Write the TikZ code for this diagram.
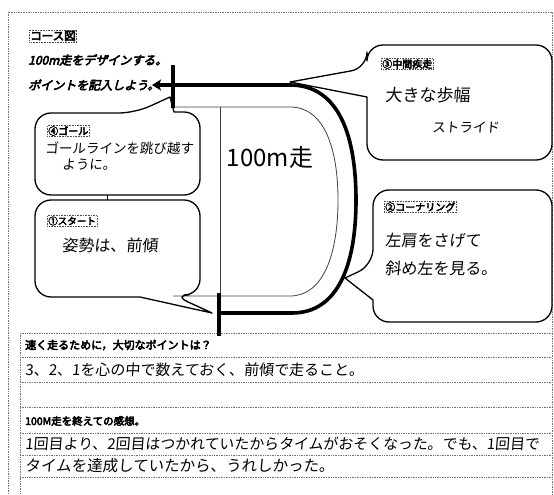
\documentclass[tikz,border=0pt]{standalone}
\usepackage{fontspec}
\usetikzlibrary{arrows.meta}
\newfontfamily\jp{Noto Sans CJK JP}
\newfontfamily\jpb[FakeBold=4.5]{Noto Sans CJK JP}
\newfontfamily\jpbi[FakeBold=4.5,FakeSlant=0.25]{Noto Sans CJK JP}
\newfontfamily\hand[FakeSlant=0.08]{Noto Sans CJK JP}
\tikzset{
  frame/.style={draw=black!55, densely dotted, line width=0.7pt},
  bubble/.style={draw=black, line width=1.3pt, line join=round},
  tag/.style={draw=black!70, densely dotted, line width=0.6pt, inner sep=1pt, anchor=west, font=\jpb\fontsize{10}{10}\selectfont},
  hw/.style={anchor=west, inner sep=0pt, font=\hand\fontsize{#1}{#1}\selectfont},
  hw/.default=16,
  head/.style={anchor=west, inner sep=0pt, font=\jpb\fontsize{#1}{#1}\selectfont},
  headi/.style={anchor=west, inner sep=0pt, font=\jpbi\fontsize{12}{12}\selectfont},
  outer track/.style={draw=black, line width=3.6pt},
  inner track/.style={draw=black!75, line width=0.8pt},
  tick/.style={draw=black, line width=4pt},
}
\begin{document}
\begin{tikzpicture}[x=1pt,y=-1pt]
\useasboundingbox (0,0) rectangle (554,495);
% frames
\draw[frame] (8,12) rectangle (552,505);
\draw[frame] (20,333) -- (552,333);
\draw[frame] (20,333) -- (20,505);
\foreach \yy in {357,382,407,433,455,477}
  \draw[frame] (20,\yy) -- (552,\yy);

% titles
\node[tag] (title) at (29,36) {\fontsize{11.5}{11.5}\selectfont コース図};
\node[headi] (design) at (28,60) {100m走をデザインする。};
\node[headi] (point) at (28,85) {ポイントを記入しよう。};

% track
\coordinate (tip) at (152,85);
\coordinate (outS) at (219,313);
\coordinate (inT) at (173,107);
\coordinate (inB) at (173,296);
\draw[outer track, -{Stealth[length=9pt,width=11pt,inset=2pt]}]
  (outS) -- (292,313) .. controls (338,313) and (356,265) .. (356,200)
  .. controls (356,138) and (340,85) .. (290,85) -- (tip);
\draw[inner track] (inT) -- (290,107) .. controls (325,107) and (338,150) .. (338,200)
  .. controls (338,255) and (323,296) .. (290,296) -- (inB);
\coordinate (lineTop) at (220,107);
\coordinate (lineBot) at (220,294);
\draw[inner track] (lineTop) -- (lineBot);
\coordinate (tickTa) at (173,65);
\coordinate (tickTb) at (173,108);
\draw[tick] (tickTa) -- (tickTb);
\coordinate (tickBa) at (219,293);
\coordinate (tickBb) at (219,336);
\draw[tick] (tickBa) -- (tickBb);
\node[font=\jp\fontsize{24}{24}\selectfont, inner sep=0pt] (hundred) at (270,157) {100m走};

% bubble 4 goal
\draw[bubble] (170,97) -- (174,112) [rounded corners=16pt] -- (200,112) -- (200,195) -- (35,195) -- (35,113) -- (135,113) [sharp corners] -- cycle;
\node[tag] (t4) at (47,131) {④ゴール};
\node[hw=13.5] (g1) at (45,148) {ゴールラインを跳び越す};
\node[hw=13.5] (g2) at (62,165) {ように。};
\coordinate (c4) at (107,195);
\coordinate (c1) at (107,200);
\draw[line width=0.8pt] (c4) -- (c1);

% bubble 1 start
\draw[bubble] (212,313) -- (140,297) [rounded corners=16pt] -- (35,297) -- (35,200) -- (200,200) -- (200,295) -- (173,295) [sharp corners] -- cycle;
\node[tag] (t1) at (47,221) {\fontsize{9.5}{9.5}\selectfont ①スタート};
\node[hw=16] (s1) at (62,245) {姿勢は、前傾};

% bubble 3
\draw[bubble] (290,82) -- (367,97) [rounded corners=16pt] -- (367,160) -- (552,160) -- (552,45) -- (367,45) -- (367,68) [sharp corners] -- cycle;
\node[tag] (t3) at (381,64) {③中間疾走};
\node[hw=17] (m1) at (385,95) {大きな歩幅};
\node[hw=13.5] (m2) at (432,128) {ストライド};

% bubble 2
\draw[bubble] (345,278) -- (373,300) [rounded corners=16pt] -- (373,322) -- (552,322) -- (552,190) -- (373,190) -- (373,265) [sharp corners] -- cycle;
\node[tag] (t2) at (384,207) {②コーナリング};
\node[hw=16] (k1) at (385,240) {左肩をさげて};
\node[hw=16] (k2) at (385,268) {斜め左を見る。};

% lower section
\node[head=11] (q1) at (25,345) {速く走るために，大切なポイントは？};
\node[hw=15] (a1) at (25,370) {3、2、1を心の中で数えておく、前傾で走ること。};
\node[head=10.5] (q2) at (25,421) {100M走を終えての感想。};
\node[hw=14.9] (a2) at (25,444) {1回目より、2回目はつかれていたからタイムがおそくなった。でも、1回目で};
\node[hw=15.5] (a3) at (25,466) {タイムを達成していたから、うれしかった。};
\end{tikzpicture}
\end{document}
